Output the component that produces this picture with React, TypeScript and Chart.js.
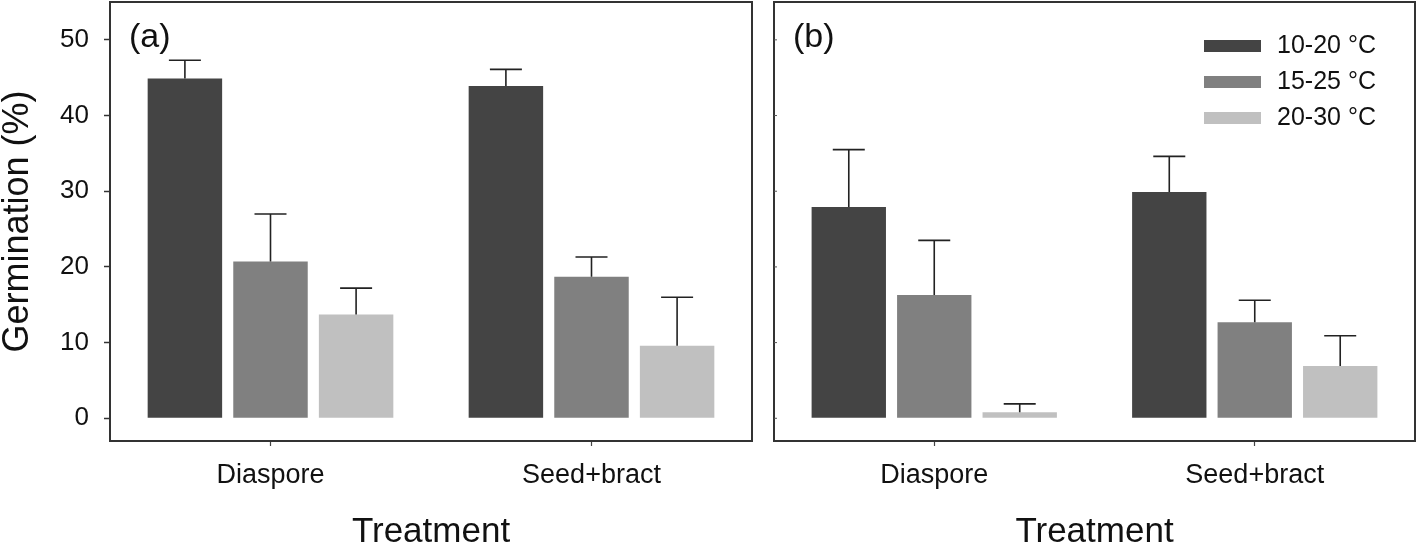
import React, { useEffect, useRef } from "react";
import { Chart, registerables } from "chart.js";
Chart.register(...registerables);

const FONT = "'Liberation Sans', Arial, Helvetica, sans-serif";

const categories = ["Diaspore", "Seed+bract"];
const seriesLabels = ["10-20 °C", "15-25 °C", "20-30 °C"];
const seriesColors = ["#444444", "#808080", "#c0c0c0"];
const yTicks = [0, 10, 20, 30, 40, 50];

// Panel (a)
const aMean1020 = [44.9, 43.9];
const aMean1525 = [20.7, 18.7];
const aMean2030 = [13.7, 9.6];
const aErr1020 = [2.4, 2.2];
const aErr1525 = [6.3, 2.6];
const aErr2030 = [3.5, 6.4];

// Panel (b)
const bMean1020 = [27.9, 29.9];
const bMean1525 = [16.3, 12.7];
const bMean2030 = [0.8, 6.9];
const bErr1020 = [7.6, 4.7];
const bErr1525 = [7.2, 2.9];
const bErr2030 = [1.1, 4.0];

type PanelProps = {
  means: number[][];
  errs: number[][];
  tag: string;
  isLeft: boolean;
  showLegend: boolean;
  width: number;
};

function Panel({ means, errs, tag, isLeft, showLegend, width }: PanelProps) {
  const ref = useRef<HTMLCanvasElement | null>(null);
  useEffect(() => {
    if (!ref.current) return;
    const datasets = means.map((m, i) => ({
      label: seriesLabels[i],
      data: m,
      errors: errs[i],
      backgroundColor: seriesColors[i],
      borderWidth: 0,
      categoryPercentage: 0.8,
      barPercentage: 0.87,
    }));

    const decor = {
      id: "decor",
      afterDatasetsDraw(chart: any) {
        const ctx = chart.ctx;
        const ys = chart.scales.y;
        ctx.save();
        ctx.strokeStyle = "#222";
        ctx.lineWidth = 1.6;
        chart.data.datasets.forEach((ds: any, i: number) => {
          const meta = chart.getDatasetMeta(i);
          meta.data.forEach((bar: any, j: number) => {
            const x = bar.x;
            const y0 = bar.y;
            const y1 = ys.getPixelForValue(ds.data[j] + ds.errors[j]);
            ctx.beginPath();
            ctx.moveTo(x, y0);
            ctx.lineTo(x, y1);
            ctx.moveTo(x - 16, y1);
            ctx.lineTo(x + 16, y1);
            ctx.stroke();
          });
        });
        ctx.restore();
      },
      afterDraw(chart: any) {
        const ctx = chart.ctx;
        const a = chart.chartArea;
        const ys = chart.scales.y;
        ctx.save();
        ctx.strokeStyle = "#333";
        ctx.lineWidth = 2;
        ctx.strokeRect(a.left, a.top, a.right - a.left, a.bottom - a.top);
        if (!isLeft) {
          ctx.lineWidth = 1;
          ctx.strokeStyle = "#555";
          yTicks.forEach((v) => {
            const y = ys.getPixelForValue(v);
            ctx.beginPath();
            ctx.moveTo(a.left, y);
            ctx.lineTo(a.left + 3, y);
            ctx.stroke();
          });
        }
        // panel tag
        ctx.fillStyle = "#111";
        ctx.font = `34px ${FONT}`;
        ctx.textAlign = "left";
        ctx.textBaseline = "middle";
        ctx.fillText(tag, a.left + 19, a.top + 36);
        if (showLegend) {
          ctx.font = `25px ${FONT}`;
          seriesLabels.forEach((lab, i) => {
            const cy = a.top + 44 + i * 36;
            const bx = a.right - 211;
            ctx.fillStyle = seriesColors[i];
            ctx.fillRect(bx, cy - 6, 57, 12);
            ctx.fillStyle = "#111";
            ctx.fillText(lab, bx + 73, cy);
          });
        }
        ctx.restore();
      },
    };

    const chart = new Chart(ref.current, {
      type: "bar",
      data: { labels: categories, datasets: datasets as any },
      options: {
        responsive: false,
        animation: false,
        layout: {
          padding: isLeft
            ? { top: 2, right: 8, left: 0, bottom: 0 }
            : { top: 2, right: 3, left: 0, bottom: 0 },
        },
        plugins: {
          legend: { display: false },
          tooltip: { enabled: false },
        },
        scales: {
          x: {
            offset: true,
            afterFit: (s: any) => {
              s.height = 109;
              s.paddingLeft = 0;
              s.paddingRight = 0;
            },
            border: { display: false },
            grid: {
              offset: false,
              drawOnChartArea: false,
              drawTicks: true,
              tickLength: 5,
              color: "#444",
              tickWidth: 1.2,
            },
            ticks: {
              padding: 13,
              color: "#111",
              font: { size: 27, family: FONT },
            },
            title: {
              display: true,
              text: "Treatment",
              color: "#111",
              font: { size: 35, family: FONT, lineHeight: 1 },
              padding: 0,
            },
          },
          y: {
            min: -3,
            max: 55,
            afterFit: (s: any) => {
              s.width = isLeft ? 110 : 14;
              s.paddingTop = 0;
              s.paddingBottom = 0;
            },
            afterBuildTicks: (s: any) => {
              s.ticks = yTicks.map((v) => ({ value: v }));
            },
            border: { display: false },
            grid: {
              drawOnChartArea: false,
              drawTicks: isLeft,
              tickLength: 6,
              color: "#333",
              tickWidth: 1.5,
            },
            ticks: {
              display: isLeft,
              padding: 15,
              color: "#111",
              font: { size: 26, family: FONT },
            },
            title: {
              display: isLeft,
              text: "Germination (%)",
              color: "#111",
              font: { size: 36, family: FONT, lineHeight: 1 },
              padding: 0,
            },
          },
        },
      },
      plugins: [decor],
    });
    return () => chart.destroy();
  }, []);
  return <canvas ref={ref} width={width} height={550} style={{ display: "block" }} />;
}

export default function App() {
  return (
    <div
      style={{
        position: "absolute",
        left: 0,
        top: 0,
        width: 1418,
        height: 550,
        background: "#fff",
        display: "flex",
      }}
    >
      <Panel
        means={[aMean1020, aMean1525, aMean2030]}
        errs={[aErr1020, aErr1525, aErr2030]}
        tag="(a)"
        isLeft={true}
        showLegend={false}
        width={760}
      />
      <Panel
        means={[bMean1020, bMean1525, bMean2030]}
        errs={[bErr1020, bErr1525, bErr2030]}
        tag="(b)"
        isLeft={false}
        showLegend={true}
        width={658}
      />
    </div>
  );
}
